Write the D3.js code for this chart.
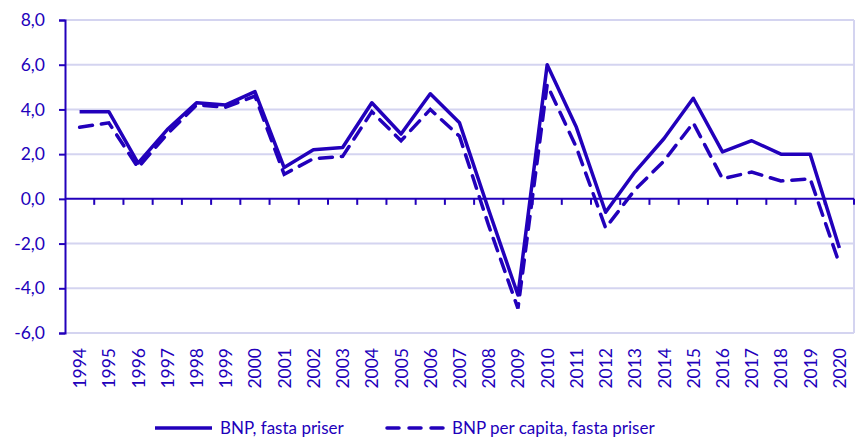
<!DOCTYPE html>
<html>
<head>
<meta charset="utf-8">
<title>BNP</title>
<style>
  body { margin: 0; background: #fff; }
  text { font-family: Lato, "Open Sans", sans-serif; fill: #2200bb; }
</style>
</head>
<body>
<script src="https://cdn.jsdelivr.net/npm/d3@7"></script>
<script>

var years = ["1994","1995","1996","1997","1998","1999","2000","2001","2002","2003",
             "2004","2005","2006","2007","2008","2009","2010","2011","2012","2013",
             "2014","2015","2016","2017","2018","2019","2020"];

// BNP, fasta priser
var bnp = [3.9, 3.9, 1.6, 3.1, 4.3, 4.2, 4.8, 1.4, 2.2, 2.3,
           4.3, 2.9, 4.7, 3.4, -0.5, -4.3, 6.0, 3.2, -0.6, 1.2,
           2.7, 4.5, 2.1, 2.6, 2.0, 2.0, -2.2];

// BNP per capita, fasta priser
var bnpCapita = [3.2, 3.4, 1.4, 2.9, 4.2, 4.1, 4.6, 1.1, 1.8, 1.9,
                 3.9, 2.6, 4.0, 2.8, -1.2, -4.9, 5.1, 2.3, -1.3, 0.4,
                 1.7, 3.4, 0.9, 1.2, 0.8, 0.9, -2.9];

var yTicks = [-6, -4, -2, 0, 2, 4, 6, 8];

var width = 857, height = 439;
var margin = { top: 20, right: 3, bottom: 106, left: 65 };
var blue = "#2200bb", grid = "#d4d4f0";

var svg = d3.select("body").append("svg")
    .attr("width", width)
    .attr("height", height);

var x = d3.scaleBand()
    .domain(years)
    .range([margin.left, width - margin.right]);

var y = d3.scaleLinear()
    .domain([-6, 8])
    .range([height - margin.bottom, margin.top]);

// gridlines
svg.append("g").selectAll("line")
    .data(yTicks.filter(function(d){ return d !== 0; }))
    .enter().append("line")
    .attr("x1", margin.left).attr("x2", width - margin.right)
    .attr("y1", function(d){ return y(d); })
    .attr("y2", function(d){ return y(d); })
    .attr("stroke", grid).attr("stroke-width", 2);

// right border
svg.append("line")
    .attr("x1", width - margin.right).attr("x2", width - margin.right)
    .attr("y1", y(8)).attr("y2", y(-6))
    .attr("stroke", grid).attr("stroke-width", 2);

// y axis
var yAxis = svg.append("g")
    .attr("transform", "translate(" + margin.left + ",0)")
    .call(d3.axisLeft(y).tickValues(yTicks).tickSize(6).tickPadding(14)
        .tickFormat(function(d){ return d3.format(".1f")(d).replace(".", ",").replace("−", "-"); }));
yAxis.select(".domain").attr("stroke", blue).attr("stroke-width", 2);
yAxis.selectAll(".tick line").attr("stroke", blue).attr("stroke-width", 2);
yAxis.selectAll("text").attr("font-size", "17.5px").style("fill", blue);

// x axis at zero, ticks between categories
var xAxisG = svg.append("g");
xAxisG.append("line")
    .attr("x1", margin.left).attr("x2", width - margin.right)
    .attr("y1", y(0)).attr("y2", y(0))
    .attr("stroke", blue).attr("stroke-width", 2);
var bounds = years.slice(1).map(function(d){ return x(d); }).concat([width - margin.right]);
xAxisG.selectAll("line.tk")
    .data(bounds)
    .enter().append("line")
    .attr("class", "tk")
    .attr("x1", function(d){ return d; }).attr("x2", function(d){ return d; })
    .attr("y1", y(0)).attr("y2", y(0) + 6)
    .attr("stroke", blue).attr("stroke-width", 2);

// year labels
svg.append("g").selectAll("text")
    .data(years)
    .enter().append("text")
    .attr("transform", function(d){
        return "translate(" + (x(d) + x.bandwidth() / 2 + 6.5) + "," + (y(-6) + 15) + ") rotate(-90)";
    })
    .attr("text-anchor", "end")
    .attr("font-size", "17.5px")
    .text(function(d){ return d; });

var line = d3.line()
    .x(function(d, i){ return x(years[i]) + x.bandwidth() / 2; })
    .y(function(d){ return y(d); });

svg.append("path")
    .datum(bnpCapita)
    .attr("d", line)
    .attr("fill", "none")
    .attr("stroke", blue)
    .attr("stroke-width", 3.5)
    .attr("stroke-dasharray", "13,9")
    .attr("stroke-linecap", "round");

svg.append("path")
    .datum(bnp)
    .attr("d", line)
    .attr("fill", "none")
    .attr("stroke", blue)
    .attr("stroke-width", 3.5)
    .attr("stroke-linejoin", "round");

// legend
var legend = [
    { name: "BNP, fasta priser", dash: null, x: 155 },
    { name: "BNP per capita, fasta priser", dash: "12,10", x: 387 }
];
var lg = svg.append("g").selectAll("g")
    .data(legend)
    .enter().append("g")
    .attr("transform", function(d){ return "translate(" + d.x + ",428)"; });
lg.append("line")
    .attr("x1", 0).attr("x2", 57)
    .attr("stroke", blue).attr("stroke-width", 3.5)
    .attr("stroke-dasharray", function(d){ return d.dash; })
    .attr("stroke-linecap", function(d){ return d.dash ? "round" : "butt"; });
lg.append("text")
    .attr("x", 65).attr("y", 6)
    .attr("font-size", "17px")
    .text(function(d){ return d.name; });

</script>
</body>
</html>
